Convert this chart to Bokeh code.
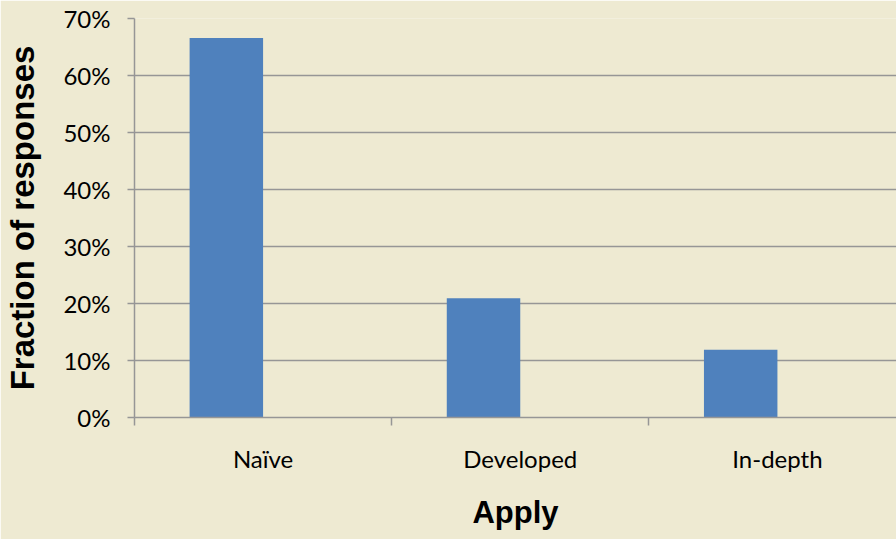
from bokeh.plotting import figure
from bokeh.models import Range1d, FixedTicker, NumeralTickFormatter, ColumnDataSource
from bokeh.embed import file_html
from bokeh.resources import INLINE

# Survey results for the "Apply" dimension
categories = ["Naïve", "Developed", "In-depth"]
fractions = [0.666, 0.209, 0.119]
y_ticks = [0.0, 0.1, 0.2, 0.3, 0.4, 0.5, 0.6, 0.7]

# Clustered-column geometry: two series slots per category, gap width 150 %
n_slots = 2
gap = 1.5
bar_w = 1.0 / (n_slots + gap)
offset = (gap / 2) * bar_w

idx = list(range(len(categories)))
src = ColumnDataSource(dict(
    x=[i + offset + bar_w / 2 for i in idx],
    top=fractions,
))

BG = "#EEEAD2"
GRID = "#969696"

p = figure(
    width=896, height=539,
    x_range=Range1d(0, 2.963), y_range=Range1d(0, 0.7),
    output_backend="svg", toolbar_location=None,
    background_fill_color=BG, border_fill_color=BG,
    min_border_left=134, min_border_right=0,
    min_border_top=18, min_border_bottom=122,
)
p.outline_line_color = None

p.vbar(x="x", top="top", width=bar_w, bottom=0, source=src,
       fill_color="#4F81BD", line_color=None)

# x axis: labels centred in each category, tick marks on category boundaries
xa = p.xaxis[0]
xa.ticker = FixedTicker(ticks=[i + 0.5 for i in idx],
                        minor_ticks=list(range(len(categories) + 1)))
xa.major_label_overrides = {i + 0.5: c for i, c in zip(idx, categories)}
xa.major_tick_line_color = None
xa.minor_tick_line_color = GRID
xa.minor_tick_line_width = 1.5
xa.minor_tick_out = 8
xa.minor_tick_in = 0
xa.axis_line_color = GRID
xa.axis_line_width = 1.5
xa.major_label_text_font = "Lato"
xa.major_label_text_font_size = "24px"
xa.major_label_text_color = "black"
xa.major_label_standoff = 18
xa.axis_label = "Apply"
xa.axis_label_text_font = "Liberation Sans"
xa.axis_label_text_font_style = "bold"
xa.axis_label_text_font_size = "31px"
xa.axis_label_text_color = "black"
xa.axis_label_standoff = 19

ya = p.yaxis[0]
ya.ticker = FixedTicker(ticks=y_ticks)
ya.formatter = NumeralTickFormatter(format="0%")
ya.major_tick_line_color = GRID
ya.major_tick_line_width = 1.5
ya.major_tick_out = 7
ya.major_tick_in = 0
ya.minor_tick_line_color = None
ya.axis_line_color = GRID
ya.axis_line_width = 1.5
ya.major_label_text_font = "Lato"
ya.major_label_text_font_size = "24px"
ya.major_label_text_color = "black"
ya.major_label_standoff = 17
ya.axis_label = "Fraction of responses"
ya.axis_label_text_font = "Liberation Sans"
ya.axis_label_text_font_style = "bold"
ya.axis_label_text_font_size = "33px"
ya.axis_label_text_color = "black"
ya.axis_label_standoff = 19

p.xgrid.grid_line_color = None
p.ygrid.ticker = FixedTicker(ticks=y_ticks)
p.ygrid.grid_line_color = GRID
p.ygrid.grid_line_width = 1.5

open("out.html", "w").write(file_html(p, INLINE))
